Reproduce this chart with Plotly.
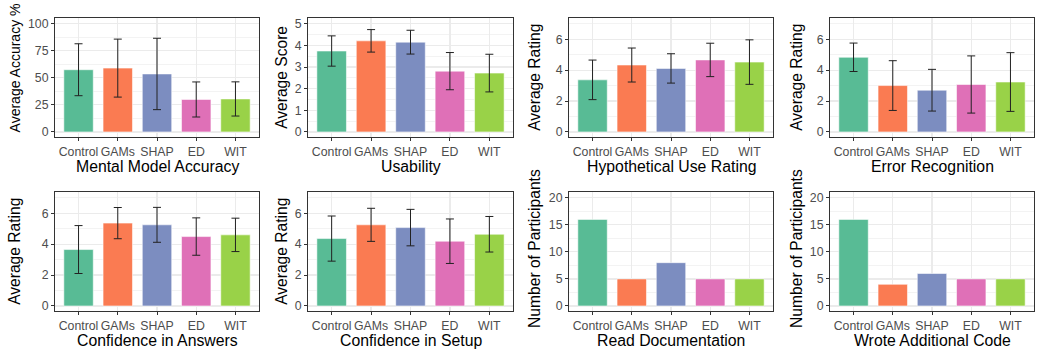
import plotly.graph_objects as go

W, H = 1037, 356

groups = ["Control", "GAMs", "SHAP", "ED", "WIT"]
colors = ["#58BB95", "#FA7B52", "#7C8DC0", "#DF70B7", "#99D248"]

# Panel data (mean, error half-width)
acc_mean = [57.5, 59.0, 53.6, 30.0, 30.5]
acc_err = [24.0, 26.8, 33.0, 16.2, 15.8]

usab_mean = [3.74, 4.21, 4.15, 2.81, 2.72]
usab_err = [0.70, 0.52, 0.55, 0.86, 0.87]

hyp_mean = [3.37, 4.33, 4.11, 4.66, 4.52]
hyp_err = [1.28, 1.10, 0.95, 1.08, 1.44]

err_mean = [4.83, 3.00, 2.70, 3.07, 3.23]
err_err = [0.92, 1.61, 1.35, 1.85, 1.90]

conf_ans_mean = [3.65, 5.36, 5.25, 4.49, 4.60]
conf_ans_err = [1.55, 1.01, 1.13, 1.21, 1.08]

conf_setup_mean = [4.36, 5.25, 5.07, 4.19, 4.64]
conf_setup_err = [1.46, 1.07, 1.18, 1.44, 1.15]

read_doc = [16, 5, 8, 5, 5]
wrote_code = [16, 4, 6, 5, 5]

panels = [
    dict(y=acc_mean, e=acc_err, xt="Mental Model Accuracy", yt="Average Accuracy %",
         rng=[-5, 105], dt=25, mdt=12.5, yts=14, ytc=68),
    dict(y=usab_mean, e=usab_err, xt="Usability", yt="Average Score",
         rng=[-0.25, 5.25], dt=1, mdt=0.5),
    dict(y=hyp_mean, e=hyp_err, xt="Hypothetical Use Rating", yt="Average Rating",
         rng=[-0.35, 7.35], dt=2, mdt=1),
    dict(y=err_mean, e=err_err, xt="Error Recognition", yt="Average Rating",
         rng=[-0.35, 7.35], dt=2, mdt=1),
    dict(y=conf_ans_mean, e=conf_ans_err, xt="Confidence in Answers", yt="Average Rating",
         rng=[-0.35, 7.35], dt=2, mdt=1),
    dict(y=conf_setup_mean, e=conf_setup_err, xt="Confidence in Setup", yt="Average Rating",
         rng=[-0.35, 7.35], dt=2, mdt=1),
    dict(y=read_doc, e=None, xt="Read Documentation", yt="Number of Participants",
         rng=[-1, 21], dt=5, mdt=2.5, ytc=250),
    dict(y=wrote_code, e=None, xt="Wrote Additional Code", yt="Number of Participants",
         rng=[-1, 21], dt=5, mdt=2.5, ytc=250),
]

cols_px = [(55, 259), (308, 513), (569, 773), (830, 1034)]
rows_px = [(17.5, 137.5), (193, 313)]
ytitle_x = [15, 282, 535, 797]
xtitle_y = [167, 342]

FONT = "Liberation Sans, Arial, Helvetica, sans-serif"
GRID = "#EBEBEB"
TICKFONT = dict(size=12.3, color="#4D4D4D", family=FONT)

fig = go.Figure()
layout = dict(
    width=W, height=H,
    margin=dict(l=0, r=0, t=0, b=0),
    paper_bgcolor="white", plot_bgcolor="white",
    showlegend=False, bargap=0,
    font=dict(family=FONT),
)
annotations = []

for i, p in enumerate(panels):
    r, c = divmod(i, 4)
    x0, x1 = cols_px[c]
    y0, y1 = rows_px[r]
    n = i + 1
    xa = "x" if n == 1 else f"x{n}"
    ya = "y" if n == 1 else f"y{n}"
    tr = dict(
        x=groups, y=p["y"], xaxis=xa, yaxis=ya, width=0.75,
        marker=dict(color=colors, line=dict(color="rgba(255,255,255,0.55)", width=1)),
        hoverinfo="skip",
    )
    if p["e"] is not None:
        tr["error_y"] = dict(type="data", array=p["e"], visible=True,
                             color="#222222", thickness=1, width=4)
    fig.add_trace(go.Bar(**tr))

    layout["xaxis" if n == 1 else f"xaxis{n}"] = dict(
        domain=[x0 / W, x1 / W], anchor=ya, range=[-0.6, 4.6],
        type="category", showgrid=True, gridcolor=GRID, gridwidth=1.2,
        showline=True, mirror=True, linecolor="#333333", linewidth=1,
        ticks="outside", ticklen=3, tickcolor="#333333", tickwidth=1,
        tickfont=TICKFONT, fixedrange=True,
    )
    layout["yaxis" if n == 1 else f"yaxis{n}"] = dict(
        domain=[1 - y1 / H, 1 - y0 / H], anchor=xa, range=p["rng"],
        tick0=0, dtick=p["dt"], showgrid=True, gridcolor=GRID, gridwidth=1.2,
        zeroline=False,
        minor=dict(showgrid=True, gridcolor=GRID, gridwidth=0.6, tick0=0, dtick=p["mdt"]),
        showline=True, mirror=True, linecolor="#333333", linewidth=1,
        ticks="outside", ticklen=3, tickcolor="#333333", tickwidth=1,
        tickfont=TICKFONT, fixedrange=True,
    )
    annotations.append(dict(
        text=p["xt"], xref="paper", yref="paper",
        x=((x0 + x1) / 2) / W, y=1 - xtitle_y[r] / H,
        xanchor="center", yanchor="middle", showarrow=False,
        font=dict(size=15.8, color="black", family=FONT),
    ))
    annotations.append(dict(
        text=p["yt"], xref="paper", yref="paper",
        x=ytitle_x[c] / W, y=1 - p.get("ytc", (y0 + y1) / 2) / H,
        xanchor="center", yanchor="middle", showarrow=False, textangle=-90,
        font=dict(size=p.get("yts", 15.6), color="black", family=FONT),
    ))

layout["annotations"] = annotations
fig.update_layout(**layout)
fig.write_html(
    "out.html",
    config={"displayModeBar": False, "staticPlot": True},
    post_script="document.body.style.margin='0px';document.body.style.overflow='hidden';",
)
